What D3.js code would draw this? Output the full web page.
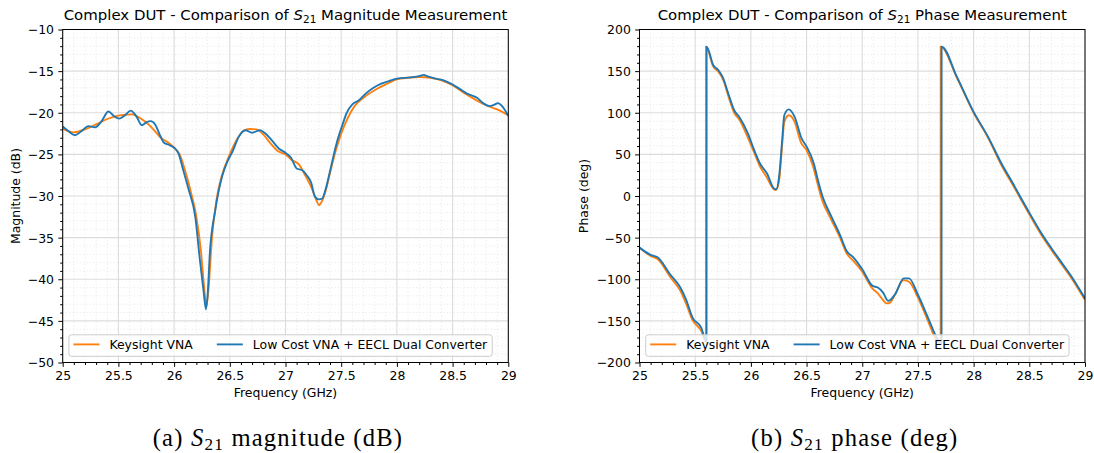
<!DOCTYPE html>
<html>
<head>
<meta charset="utf-8">
<script src="https://cdn.jsdelivr.net/npm/d3@7"></script>
<style>
  html, body { margin: 0; padding: 0; background: #ffffff; }
  svg { display: block; }
  text { white-space: pre; }
</style>
</head>
<body>
<svg id="chart" width="1094" height="453"></svg>
<script>
// ---------------- DATA ----------------
const seriesNames = ["Keysight VNA", "Low Cost VNA + EECL Dual Converter"];
const xTicks = [25, 25.5, 26, 26.5, 27, 27.5, 28, 28.5, 29];
const magTicks = [-50, -45, -40, -35, -30, -25, -20, -15, -10];
const phaseTicks = [-200, -150, -100, -50, 0, 50, 100, 150, 200];

// S21 magnitude (dB) - Keysight VNA
const magFreqKeysight = [25.00,25.10,25.20,25.30,25.40,25.48,25.55,25.62,25.70,25.77,25.82,25.88,25.95,26.00,26.05,26.10,26.15,26.20,26.24,26.27,26.29,26.31,26.34,26.38,26.43,26.50,26.56,26.62,26.68,26.74,26.80,26.86,26.93,27.00,27.06,27.12,27.18,27.24,27.28,27.30,27.32,27.36,27.40,27.45,27.50,27.56,27.62,27.70,27.80,27.90,28.00,28.10,28.20,28.30,28.40,28.50,28.60,28.70,28.80,28.90,29.00];
const magKeysight = [-21.9,-22.35,-22.0,-21.4,-20.75,-20.4,-20.25,-20.2,-20.7,-21.4,-22.1,-23.0,-23.6,-24.2,-25.0,-27.0,-29.5,-32.5,-36.5,-41.0,-43.3,-41.0,-35.0,-30.5,-27.5,-25.0,-23.3,-22.2,-21.95,-22.0,-22.6,-23.6,-24.6,-25.0,-25.7,-26.2,-27.6,-29.2,-30.6,-31.1,-30.8,-29.4,-27.2,-24.6,-22.5,-20.6,-19.2,-18.2,-17.3,-16.6,-16.0,-15.8,-15.7,-15.8,-16.1,-16.7,-17.6,-18.4,-19.1,-19.6,-20.3];

// S21 magnitude (dB) - Low Cost VNA + EECL Dual Converter
const magFreqLowCost = [25.00,25.05,25.11,25.17,25.23,25.29,25.35,25.41,25.46,25.51,25.56,25.61,25.66,25.71,25.75,25.79,25.83,25.87,25.91,25.96,26.00,26.04,26.08,26.13,26.19,26.23,26.265,26.286,26.305,26.32,26.37,26.43,26.48,26.52,26.58,26.64,26.70,26.77,26.82,26.87,26.94,27.00,27.05,27.10,27.15,27.19,27.23,27.265,27.30,27.33,27.36,27.40,27.46,27.51,27.55,27.60,27.66,27.72,27.79,27.86,27.93,28.00,28.12,28.20,28.24,28.27,28.33,28.42,28.50,28.56,28.63,28.72,28.78,28.83,28.88,28.905,28.95,29.00];
const magLowCost = [-21.65,-22.2,-22.7,-22.2,-21.6,-21.75,-21.0,-19.85,-20.4,-20.7,-20.3,-19.75,-20.4,-21.5,-21.15,-21.0,-21.4,-22.6,-23.6,-23.9,-24.2,-24.9,-26.8,-29.2,-32.5,-37.5,-41.5,-43.6,-41.0,-37.0,-31.7,-27.7,-25.8,-24.8,-22.9,-22.1,-22.4,-22.1,-22.5,-23.2,-24.3,-24.8,-25.4,-26.7,-26.9,-27.5,-28.4,-30.1,-30.4,-30.3,-29.2,-27.0,-23.6,-21.5,-20.0,-19.0,-18.5,-17.7,-17.0,-16.5,-16.2,-15.9,-15.75,-15.6,-15.45,-15.6,-15.85,-16.1,-16.6,-17.1,-17.7,-18.2,-18.9,-19.2,-19.0,-18.85,-19.3,-20.4];

// S21 phase (deg) - Keysight VNA
const phaseFreqKeysight = [25.00,25.10,25.165,25.274,25.367,25.42,25.476,25.554,25.598,25.5985,25.66,25.71,25.75,25.80,25.85,25.90,25.97,26.03,26.08,26.14,26.20,26.225,26.255,26.28,26.30,26.34,26.39,26.45,26.50,26.56,26.60,26.64,26.72,26.80,26.86,26.92,27.00,27.09,27.14,27.18,27.22,27.25,27.30,27.37,27.42,27.50,27.59,27.66,27.704,27.7045,27.85,28.00,28.13,28.25,28.37,28.50,28.61,28.70,28.79,28.88,29.00];
const phaseKeysight = [-62,-72,-76,-97,-114,-130,-149,-162,-176,179.5,156,149,140,119,100,91,71,52,36,23,9,7,20,60,89,97,90,64,55,35,14,-5,-28,-50,-69,-78,-91,-111,-117,-124,-129,-128,-117,-101,-103,-122,-150,-172,-178,179.5,142,100,70,37,9,-22,-47,-65,-82,-99,-125];

// S21 phase (deg) - Low Cost VNA + EECL Dual Converter
const phaseFreqLowCost = [25.00,25.10,25.165,25.274,25.367,25.42,25.476,25.554,25.602,25.6025,25.663,25.709,25.746,25.80,25.85,25.896,25.974,26.03,26.082,26.145,26.207,26.228,26.253,26.28,26.30,26.34,26.393,26.456,26.502,26.565,26.60,26.642,26.72,26.798,26.86,26.922,27.00,27.093,27.14,27.187,27.233,27.295,27.373,27.42,27.498,27.59,27.669,27.712,27.7125,27.85,28.00,28.13,28.25,28.37,28.415,28.50,28.61,28.70,28.79,28.88,29.00];
const phaseLowCost = [-62,-70.8,-74,-94,-110,-125,-146,-158,-175,179.5,157,151,143,122,103,95,75,55,39,27,9,8,23,65,97,104,95,69,59,39,20,0,-24,-46,-66,-74,-88,-108,-110,-116,-126,-118,-99,-99,-118,-146,-170,-177,179.5,143,101,71,39,11,0,-20,-45,-63,-80,-97,-123];

// ---------------- DRAWING ----------------
const svg = d3.select("#chart");
const FONT = "'DejaVu Sans', sans-serif";
const FS = 12.44;
const colors = ["#ff7f0e", "#1f77b4"];
const fmt = d3.format("~g");

function zipSeries(fx, fy) { return fx.map((f, i) => ({ f: f, v: fy[i] })); }

function drawPanel(opt) {
  const x = d3.scaleLinear().domain([25, 29]).range([opt.x0, opt.x1]);
  const y = d3.scaleLinear().domain(opt.yDomain).range([opt.y1, opt.y0]);
  const g = svg.append("g");
  const id = "clip" + opt.key;
  svg.append("defs").append("clipPath").attr("id", id)
    .append("rect").attr("x", opt.x0).attr("y", opt.y0)
    .attr("width", opt.x1 - opt.x0).attr("height", opt.y1 - opt.y0);

  // minor grid
  const xMinor = d3.range(250, 291, 1).map(d => d / 10).filter(d => Math.abs(d * 2 - Math.round(d * 2)) > 1e-6);
  const yMinor = d3.range(opt.yDomain[0], opt.yDomain[1] + 1e-9, opt.minorStep)
    .filter(d => Math.abs(d / opt.majorStep - Math.round(d / opt.majorStep)) > 1e-6);
  const grid = g.append("g");
  grid.selectAll(".vminor").data(xMinor).join("line")
    .attr("x1", d => x(d)).attr("x2", d => x(d)).attr("y1", opt.y0).attr("y2", opt.y1)
    .attr("stroke", "#e4e4e4").attr("stroke-width", 0.9).attr("stroke-dasharray", "1,2.4");
  grid.selectAll(".hminor").data(yMinor).join("line")
    .attr("x1", opt.x0).attr("x2", opt.x1).attr("y1", d => y(d)).attr("y2", d => y(d))
    .attr("stroke", "#e4e4e4").attr("stroke-width", 0.9).attr("stroke-dasharray", "1,2.4");
  grid.selectAll(".vmajor").data(xTicks).join("line")
    .attr("x1", d => x(d)).attr("x2", d => x(d)).attr("y1", opt.y0).attr("y2", opt.y1)
    .attr("stroke", "#dcdcdc").attr("stroke-width", 1.1);
  grid.selectAll(".hmajor").data(opt.yTicks).join("line")
    .attr("x1", opt.x0).attr("x2", opt.x1).attr("y1", d => y(d)).attr("y2", d => y(d))
    .attr("stroke", "#dcdcdc").attr("stroke-width", 1.1);

  // lines
  const line = d3.line().x(d => x(d.f)).y(d => y(d.v)).curve(d3.curveMonotoneX);
  const lg = g.append("g").attr("clip-path", "url(#" + id + ")");
  opt.series.forEach((s, i) => {
    lg.append("path").datum(s).attr("d", line)
      .attr("fill", "none").attr("stroke", colors[i]).attr("stroke-width", 1.87)
      .attr("stroke-linejoin", "round").attr("stroke-linecap", "butt");
  });

  // axes
  const styleAxis = sel => {
    sel.select(".domain").remove();
    sel.selectAll("line").attr("stroke", "#000").attr("stroke-width", 1);
    sel.selectAll("text").attr("font-family", FONT).attr("font-size", FS).attr("fill", "#000");
  };
  g.append("g").attr("transform", `translate(0,${opt.y1})`)
    .call(d3.axisBottom(x).tickValues(xMinor).tickSize(2.5).tickFormat(""))
    .call(styleAxis);
  g.append("g").attr("transform", `translate(0,${opt.y1})`)
    .call(d3.axisBottom(x).tickValues(xTicks).tickSize(4.35).tickPadding(4.35).tickFormat(fmt))
    .call(styleAxis);
  g.append("g").attr("transform", `translate(${opt.x0},0)`)
    .call(d3.axisLeft(y).tickValues(yMinor).tickSize(2.5).tickFormat(""))
    .call(styleAxis);
  const ya = g.append("g").attr("transform", `translate(${opt.x0},0)`)
    .call(d3.axisLeft(y).tickValues(opt.yTicks).tickSize(4.35).tickPadding(4.35).tickFormat(fmt))
    .call(styleAxis);
  ya.selectAll("text").attr("dy", "0.36em");

  // frame
  g.append("rect").attr("x", opt.x0).attr("y", opt.y0)
    .attr("width", opt.x1 - opt.x0).attr("height", opt.y1 - opt.y0)
    .attr("fill", "none").attr("stroke", "#000").attr("stroke-width", 1);

  // title
  const cx = (opt.x0 + opt.x1) / 2;
  const t = g.append("text").attr("x", cx).attr("y", 19.6).attr("text-anchor", "middle")
    .attr("font-family", FONT).attr("font-size", 14.93).attr("fill", "#000");
  t.append("tspan").text("Complex DUT - Comparison of ");
  t.append("tspan").attr("font-style", "italic").text("S");
  t.append("tspan").attr("font-size", 10.45).attr("dy", 3).text("21");
  t.append("tspan").attr("dy", -3).text(" " + opt.titleRest);

  // axis labels
  g.append("text").attr("x", cx).attr("y", 396.5).attr("text-anchor", "middle")
    .attr("font-family", FONT).attr("font-size", FS).attr("fill", "#000").text("Frequency (GHz)");
  g.append("text").attr("transform", `translate(${opt.yLabelX},${(opt.y0 + opt.y1) / 2}) rotate(-90)`)
    .attr("text-anchor", "middle").attr("font-family", FONT).attr("font-size", FS)
    .attr("fill", "#000").text(opt.yLabel);

  // legend (lower left)
  const lx0 = opt.x0 + 6.2;
  const lBottom = opt.y1 - 6.2;
  const lTop = lBottom - 21.5;
  const leg = g.append("g");
  const box = leg.append("rect").attr("x", lx0).attr("y", lTop).attr("height", lBottom - lTop)
    .attr("rx", 2.5).attr("ry", 2.5)
    .attr("fill", "#ffffff").attr("fill-opacity", 0.8)
    .attr("stroke", "#cccccc").attr("stroke-width", 1);
  let cursor = lx0 + 4.5;
  const lineY = lTop + 9.6;
  seriesNames.forEach((name, i) => {
    leg.append("line").attr("x1", cursor).attr("x2", cursor + 26).attr("y1", lineY).attr("y2", lineY)
      .attr("stroke", colors[i]).attr("stroke-width", 1.87);
    const tx = leg.append("text").attr("x", cursor + 36).attr("y", lTop + 14.2)
      .attr("font-family", FONT).attr("font-size", FS).attr("fill", "#000").text(name);
    const w = tx.node().getComputedTextLength();
    cursor = cursor + 36 + w + (i === 0 ? 24 : 5);
  });
  box.attr("width", cursor - lx0);

  // caption
  const cap = svg.append("text").attr("x", cx - 7.5).attr("y", 446).attr("text-anchor", "middle")
    .attr("font-family", "'Liberation Serif', 'Times New Roman', serif").attr("font-size", 24.6)
    .attr("letter-spacing", 1.2).attr("fill", "#000");
  cap.append("tspan").text(opt.capPrefix + " ");
  cap.append("tspan").attr("font-style", "italic").text("S");
  cap.append("tspan").attr("font-size", 17.2).attr("dy", 3.6).text("21");
  cap.append("tspan").attr("dy", -3.6).text(" " + opt.capRest);
}

drawPanel({
  key: "a", x0: 62.7, x1: 508.3, y0: 29.5, y1: 362.5,
  yDomain: [-50, -10], yTicks: magTicks, majorStep: 5, minorStep: 1,
  series: [zipSeries(magFreqKeysight, magKeysight), zipSeries(magFreqLowCost, magLowCost)],
  titleRest: "Magnitude Measurement", yLabel: "Magnitude (dB)", yLabelX: 20.3,
  capPrefix: "(a)", capRest: "magnitude (dB)"
});
drawPanel({
  key: "b", x0: 639.5, x1: 1085, y0: 29.5, y1: 362.5,
  yDomain: [-200, 200], yTicks: phaseTicks, majorStep: 50, minorStep: 10,
  series: [zipSeries(phaseFreqKeysight, phaseKeysight), zipSeries(phaseFreqLowCost, phaseLowCost)],
  titleRest: "Phase Measurement", yLabel: "Phase (deg)", yLabelX: 588.3,
  capPrefix: "(b)", capRest: "phase (deg)"
});
</script>
</body>
</html>
